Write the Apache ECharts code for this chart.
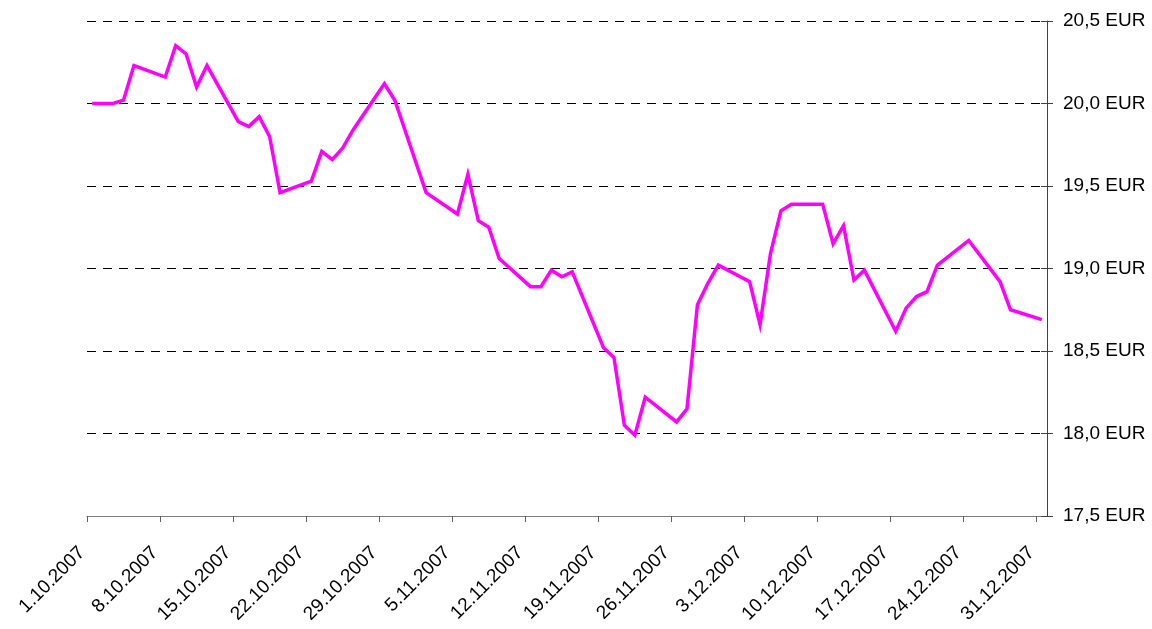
<!DOCTYPE html>
<html>
<head>
<meta charset="utf-8">
<script src="https://cdn.jsdelivr.net/npm/echarts@6/dist/echarts.min.js"></script>
<style>
  html, body { margin: 0; padding: 0; background: #ffffff; }
  #chart { width: 1152px; height: 629px; }
</style>
</head>
<body>
<div id="chart"></div>
<script>
// Daily closing prices, Q4 2007 (trading days only)
const dates = [
  '2007-10-01','2007-10-02','2007-10-03','2007-10-04','2007-10-05',
  '2007-10-08','2007-10-09','2007-10-10','2007-10-11','2007-10-12',
  '2007-10-15','2007-10-16','2007-10-17','2007-10-18','2007-10-19',
  '2007-10-22','2007-10-23','2007-10-24','2007-10-25','2007-10-26',
  '2007-10-29','2007-10-30','2007-11-02',
  '2007-11-05','2007-11-06','2007-11-07','2007-11-08','2007-11-09',
  '2007-11-12','2007-11-13','2007-11-14','2007-11-15','2007-11-16',
  '2007-11-19','2007-11-20','2007-11-21','2007-11-22','2007-11-23',
  '2007-11-26','2007-11-27','2007-11-28','2007-11-29','2007-11-30',
  '2007-12-03','2007-12-04','2007-12-05','2007-12-06','2007-12-07',
  '2007-12-10','2007-12-11','2007-12-12','2007-12-13','2007-12-14',
  '2007-12-17','2007-12-18','2007-12-19','2007-12-20','2007-12-21',
  '2007-12-24','2007-12-27','2007-12-28','2007-12-31'
];
const prices = [
  20.00, 20.00, 20.00, 20.02, 20.23,
  20.16, 20.35, 20.30, 20.10, 20.23,
  19.89, 19.86, 19.92, 19.80, 19.46,
  19.53, 19.71, 19.66, 19.73, 19.84,
  20.12, 20.02, 19.46,
  19.33, 19.57, 19.29, 19.25, 19.06,
  18.89, 18.89, 18.99, 18.95, 18.98,
  18.52, 18.46, 18.05, 17.99, 18.22,
  18.07, 18.15, 18.78, 18.91, 19.02,
  18.92, 18.66, 19.09, 19.35, 19.39,
  19.39, 19.15, 19.26, 18.93, 18.99,
  18.62, 18.76, 18.83, 18.86, 19.02,
  19.17, 18.92, 18.75, 18.69
];

// Axis settings
const startDate = '2007-10-01';
const endDate = '2008-01-01';
const yTicks = [17.5, 18.0, 18.5, 19.0, 19.5, 20.0, 20.5];
const currency = 'EUR';

const DAY = 86400000;
const t0 = Date.parse(startDate + 'T00:00:00Z');
const dayOf = s => (Date.parse(s + 'T00:00:00Z') - t0) / DAY;
const totalDays = dayOf(endDate);

// each trading day is plotted in the middle of its day slot
const seriesData = dates.map((d, i) => [dayOf(d) + 0.5, prices[i]]);

const fontFamily = '"Liberation Sans", Arial, sans-serif';

const chart = echarts.init(document.getElementById('chart'), null, { renderer: 'canvas' });

const yBase = {
  type: 'value',
  position: 'right',
  min: yTicks[0],
  max: yTicks[yTicks.length - 1],
  interval: 0.5
};

chart.setOption({
  animation: false,
  backgroundColor: '#ffffff',
  grid: { left: 87, right: 105, top: 21, bottom: 113, containLabel: false },
  xAxis: {
    type: 'value',
    min: 0,
    max: totalDays,
    interval: 7,
    axisLine: { show: true, onZero: false, lineStyle: { color: '#808080', width: 1 } },
    axisTick: { show: true, length: 6, lineStyle: { color: '#606060', width: 1 } },
    splitLine: { show: false },
    axisLabel: {
      rotate: 45,
      margin: 29,
      padding: [0, 7, 0, 0],
      color: '#000000',
      fontFamily: fontFamily,
      fontSize: 19,
      showMaxLabel: false,
      formatter: v => {
        const dt = new Date(t0 + v * DAY);
        return dt.getUTCDate() + '.' + (dt.getUTCMonth() + 1) + '.' + dt.getUTCFullYear();
      }
    }
  },
  yAxis: [
    Object.assign({}, yBase, {
      axisLine: { show: true, onZero: false, lineStyle: { color: '#404040', width: 1 } },
      axisTick: { show: true, length: 6, lineStyle: { color: '#404040', width: 1 } },
      splitLine: { show: true, lineStyle: { color: '#000000', width: 1, type: [9, 7] } },
      axisLabel: {
        margin: 16,
        color: '#000000',
        fontFamily: fontFamily,
        fontSize: 19,
        formatter: v => v.toFixed(1).replace('.', ',') + ' ' + currency
      }
    }),
    // inner half of the cross ticks on the price axis
    Object.assign({}, yBase, {
      axisLine: { show: false, onZero: false },
      axisTick: { show: true, inside: true, length: 6, lineStyle: { color: '#404040', width: 1 } },
      splitLine: { show: false },
      axisLabel: { show: false }
    })
  ],
  series: [{
    type: 'line',
    data: seriesData,
    yAxisIndex: 0,
    symbol: 'none',
    lineStyle: { color: '#ff00ff', width: 3.5, join: 'miter' },
    itemStyle: { color: '#ff00ff' }
  }]
});
</script>
</body>
</html>
